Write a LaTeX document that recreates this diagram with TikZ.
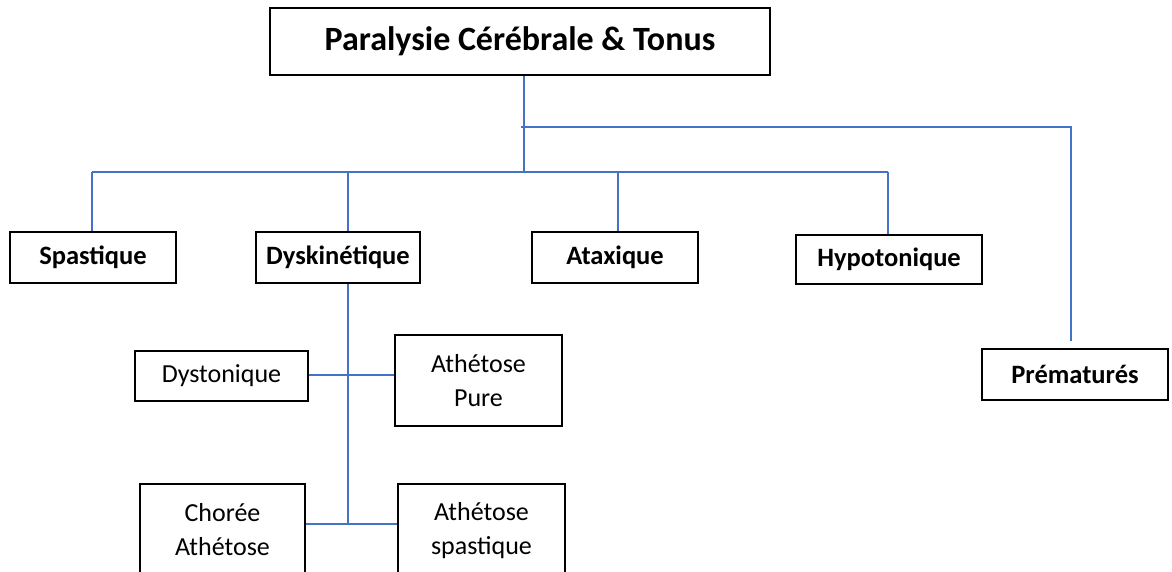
\documentclass[tikz,border=0pt]{standalone}
\usepackage{fontspec}
\setmainfont{Carlito}
\definecolor{lineblue}{RGB}{68,114,196}
\begin{document}
\begin{tikzpicture}[x=1pt,y=-1pt,
  box/.style={draw=black, line width=1.6pt, inner sep=0pt, align=center, fill=white},
  bfont/.style={font=\bfseries\fontsize{26.5}{30}\selectfont},
  rfont/.style={font=\fontsize{26}{34}\selectfont},
  conn/.style={draw=lineblue, line width=1.5pt}]
\useasboundingbox (0,0) rectangle (1172,571);
% nodes
\node[box, minimum width=500pt, minimum height=67pt, font=\bfseries\fontsize{34}{38}\selectfont] (title) at (520,41.5) {Paralysie Cérébrale \& Tonus};
\node[box, bfont, minimum width=166pt, minimum height=51pt] (spa) at (93,257.5) {Spastique};
\node[box, bfont, minimum width=164pt, minimum height=51pt] (dys) at (338,257.5) {Dyskinétique};
\node[box, bfont, minimum width=166pt, minimum height=51pt] (ata) at (615,257.5) {Ataxique};
\node[box, bfont, minimum width=186pt, minimum height=49pt] (hyp) at (889,259.5) {Hypotonique};
\node[box, bfont, minimum width=186pt, minimum height=51pt] (pre) at (1075,374.5) {Prématurés};
\node[box, rfont, minimum width=173pt, minimum height=50pt] (dyst) at (221.5,376) {Dystonique};
\node[box, rfont, minimum width=167pt, minimum height=91pt] (pure) at (478.5,380.5) {Athétose\\Pure};
\node[box, rfont, minimum width=165pt, minimum height=92pt] (chor) at (222.5,530) {Chorée\\Athétose};
\node[box, rfont, minimum width=167pt, minimum height=93pt] (aspa) at (481.5,530.5) {Athétose\\spastique};
% junction coordinates
\coordinate (hub) at (524,172);
\coordinate (rj) at (524,127);
\coordinate (rc) at (1071,127);
\coordinate (rend) at (1071,341);
\coordinate (lj) at (92,172);
\coordinate (dj) at (348,172);
\coordinate (aj) at (618,172);
\coordinate (hj) at (888,172);
\coordinate (djb) at (348,524);
\coordinate (djm) at (348,375);
% connectors
\draw[conn] ([xshift=4pt]title.south) -- (hub);
\draw[conn] ([xshift=-3pt]rj) -- (rc) -- (rend);
\draw[conn] (lj) -- (hj);
\draw[conn] (lj) -- (lj |- spa.north);
\draw[conn] (dj) -- (dj |- dys.north);
\draw[conn] (aj) -- (aj |- ata.north);
\draw[conn] (hj) -- (hj |- hyp.north);
\draw[conn] (djm |- dys.south) -- (djb);
\draw[conn] (dyst.east |- djm) -- (pure.west |- djm);
\draw[conn] (chor.east |- djb) -- (aspa.west |- djb);
\end{tikzpicture}
\end{document}
